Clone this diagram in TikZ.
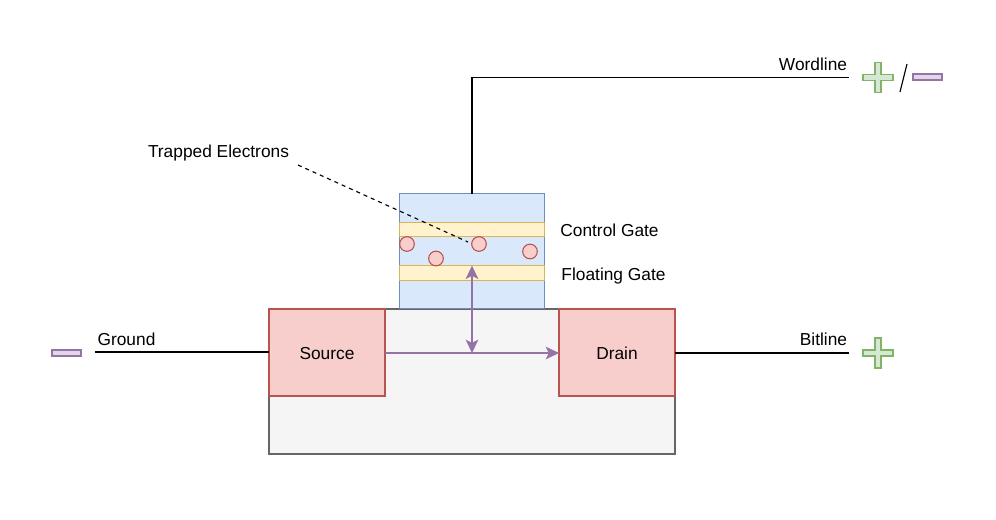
\documentclass[tikz,border=0pt]{standalone}
\usepackage{fontspec}
\setmainfont{Liberation Sans}
\usetikzlibrary{arrows.meta}
\definecolor{bluefill}{HTML}{DAE8FC}\definecolor{blueline}{HTML}{6C8EBF}
\definecolor{yelfill}{HTML}{FFF2CC}\definecolor{yelline}{HTML}{D6B656}
\definecolor{redfill}{HTML}{F8CECC}\definecolor{redline}{HTML}{B85450}
\definecolor{grnfill}{HTML}{D5E8D4}\definecolor{grnline}{HTML}{82B366}
\definecolor{purfill}{HTML}{E1D5E7}\definecolor{purline}{HTML}{9673A6}
\definecolor{grayfill}{HTML}{F5F5F5}\definecolor{grayline}{HTML}{666666}
\newcommand{\termtext}[1]{\raisebox{-5.6pt}[0pt][0pt]{#1}}
\tikzset{
  box/.style={draw,rectangle,inner sep=0pt,outer sep=0pt,line width=0.8pt},
  substrate/.style={box,fill=grayfill,draw=grayline,minimum width=304.5pt,minimum height=108.75pt},
  gatestack/.style={box,fill=bluefill,draw=blueline,minimum width=108.75pt,minimum height=86.25pt},
  gate/.style={box,fill=yelfill,draw=yelline,minimum width=108.75pt,minimum height=11pt},
  terminal/.style={box,fill=redfill,draw=redline,minimum width=87pt,minimum height=65.25pt,font=\fontsize{13pt}{15pt}\selectfont},
  electron/.style={draw=redline,fill=redfill,circle,line width=0.8pt,inner sep=0pt,outer sep=0pt,minimum size=11pt},
  minusmark/.style={box,fill=purfill,draw=purline,minimum width=21.75pt,minimum height=4.5pt},
  wire/.style={line width=0.85pt,black},
  flow/.style={line width=0.9pt,draw=purline,-{Stealth[length=10pt,width=9.5pt,inset=2.4pt,color=purline]}},
  lbl/.style={inner sep=0pt,font=\fontsize{13pt}{15pt}\selectfont},
  plusmark/.pic={
    \draw[line width=0.8pt,draw=grnline,fill=grnfill]
      (-3,-15)--(3,-15)--(3,-3)--(15,-3)--(15,3)--(3,3)--(3,15)--(-3,15)--(-3,3)--(-15,3)--(-15,-3)--(-3,-3)--cycle;
  }
}
\begin{document}
\begin{tikzpicture}[x=0.75pt,y=-0.75pt]
\useasboundingbox (0,0) rectangle (996,519);
\node[substrate] (sub) at (472,381.5) {};
\node[gatestack] (stack) at (472,251) {};
\node[gate] (cg) at (472,229.5) {};
\node[gate] (fg) at (472,273) {};
\node[terminal] (src) at (327,352.5) {\termtext{Source}};
\node[terminal] (drn) at (617,352.5) {\termtext{Drain}};
\node[electron] (e1) at (407,244) {};
\node[electron] (e2) at (436,258.5) {};
\node[electron] (e3) at (479,244) {};
\node[electron] (e4) at (530,251.5) {};
\node[lbl] (lword) at (813,64) {Wordline};
\node[lbl] (ltrap) at (218.5,153) {Trapped Electrons};
\node[lbl] (lcg) at (609.5,230.5) {Control Gate};
\node[lbl] (lfg) at (613.5,276) {Floating Gate};
\node[lbl] (lgnd) at (126.5,339) {Ground};
\node[lbl] (lbit) at (823.5,339) {Bitline};
\coordinate (wordend) at (849,77.5);
\coordinate (gndend) at (95,352);
\coordinate (bitend) at (849,353);
\coordinate (trapstart) at (298,165);
\coordinate (trapend) at (468,242);
\coordinate (chan) at (472,353);
\coordinate (slasha) at (907,64);
\coordinate (slashb) at (900,92);
\draw[wire] (stack.north) -- (stack.north |- wordend) -- (wordend);
\draw[wire] (gndend) -- (gndend -| src.west);
\draw[wire] (drn.east |- bitend) -- (bitend);
\draw[wire] (slasha) -- (slashb);
\draw[line width=0.85pt,black,dash pattern=on 3pt off 3pt] (trapstart) -- (trapend);
\draw[flow] (src.east |- chan) -- (drn.west |- chan);
\draw[flow,{Stealth[length=10pt,width=9.5pt,inset=2.4pt,color=purline]}-{Stealth[length=10pt,width=9.5pt,inset=2.4pt,color=purline]}] (fg.north) -- (chan);
\pic at (878,77.5) {plusmark};
\pic at (878,353) {plusmark};
\node[minusmark] (m1) at (927.5,77) {};
\node[minusmark] (m2) at (66.5,353) {};
\end{tikzpicture}
\end{document}
